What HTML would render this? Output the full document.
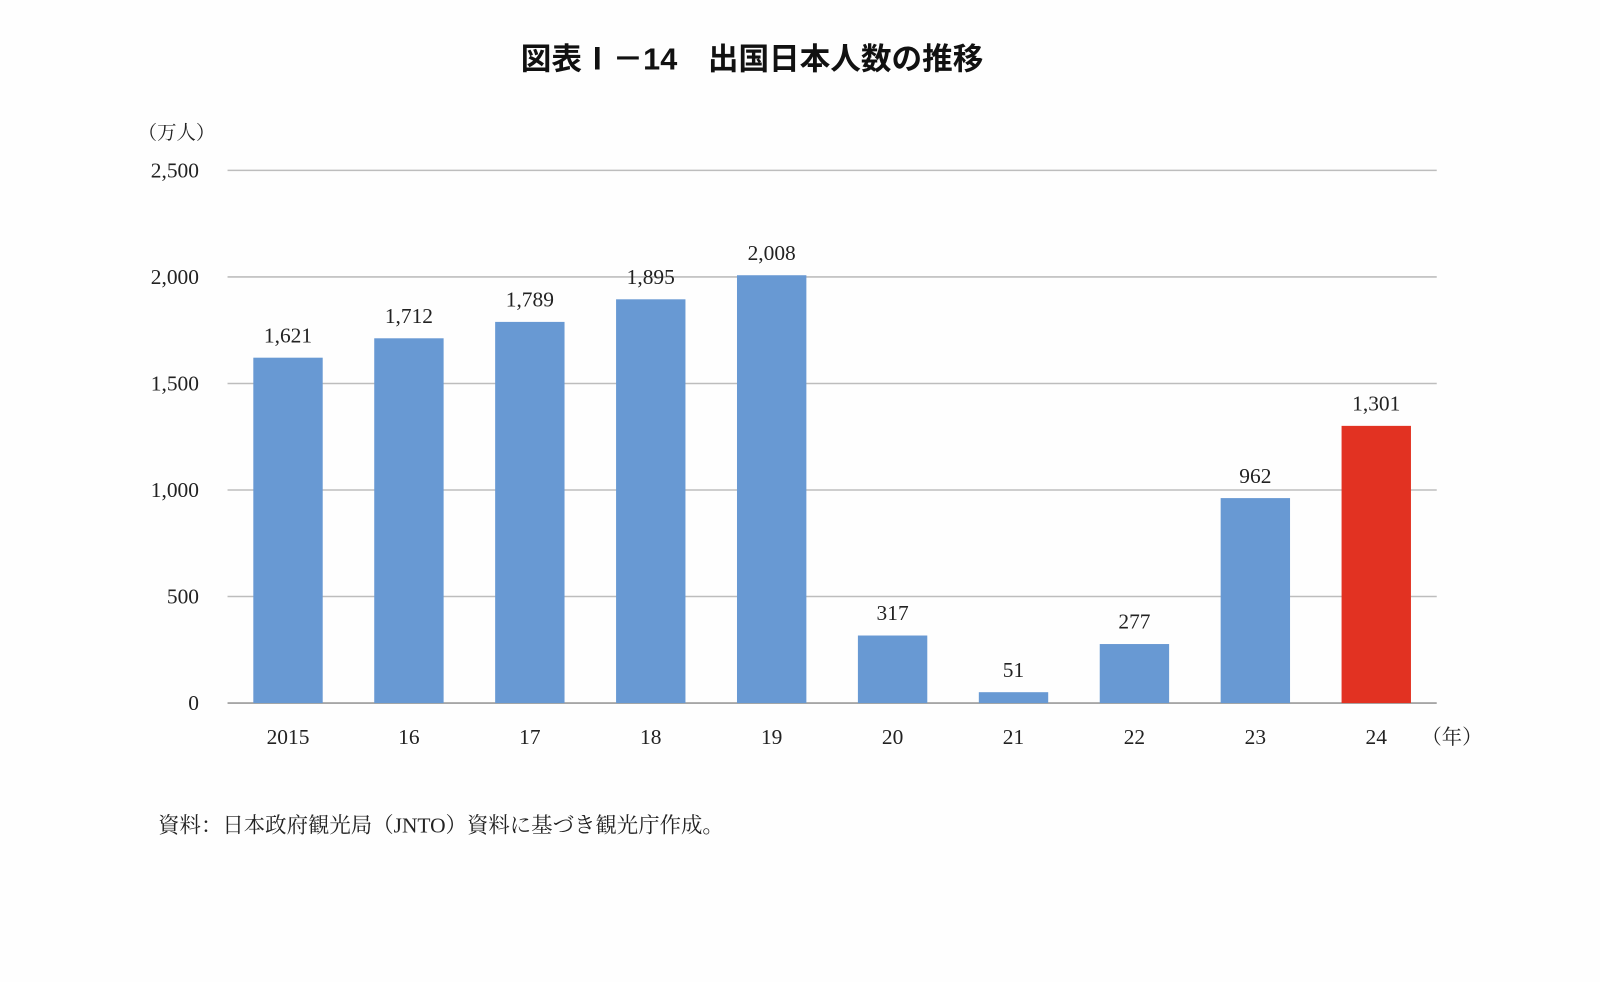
<!DOCTYPE html>
<html><head><meta charset="utf-8">
<style>
html,body{margin:0;padding:0;background:#fefefe;}
body{width:1600px;height:977px;overflow:hidden;position:relative;}
svg text{font-family:"Liberation Serif","Noto Serif CJK SC",serif;fill:#222;}
</style></head>
<body>
<svg width="1600" height="977">
<g transform="scale(1.0204)">
<text x="737" y="68" text-anchor="middle" style="font-family:'Liberation Sans','Noto Sans CJK JP',sans-serif;font-weight:bold;font-size:30px;fill:#111">図表Ⅰ－14　出国日本人数の推移</text>
<text x="135" y="136" font-size="19">（万人）</text>
<g id="grid"></g><g id="bars"></g><g id="labels"></g>
<text x="1393" y="729" font-size="20">（年）</text>
<text x="155" y="816" font-size="21">資料：日本政府観光局（JNTO）資料に基づき観光庁作成。</text>
</g>
</svg>
<script>
const categories=["2015","16","17","18","19","20","21","22","23","24"];
const values=[1621,1712,1789,1895,2008,317,51,277,962,1301];
const valueLabels=["1,621","1,712","1,789","1,895","2,008","317","51","277","962","1,301"];
const yTicks=[0,500,1000,1500,2000,2500];
const yTickLabels=["0","500","1,000","1,500","2,000","2,500"];
const highlight=[false,false,false,false,false,false,false,false,false,true];
const NS="http://www.w3.org/2000/svg";
const x0=223,x1=1408,yBase=689,yTop=167,yMax=2500;
const y=v=>yBase-(v/yMax)*(yBase-yTop);
const band=(x1-x0)/categories.length;
const xc=i=>x0+band*(i+0.5);
function mk(tag,attrs,parent){const e=document.createElementNS(NS,tag);for(const k in attrs)e.setAttribute(k,attrs[k]);parent.appendChild(e);return e;}
const g=document.getElementById('grid'),b=document.getElementById('bars'),l=document.getElementById('labels');
yTicks.forEach((t,i)=>{
 const ln=mk('line',{x1:x0,x2:x1,y1:y(t),y2:y(t),stroke:i==0?'#999':'#bdbdbd','stroke-width':1.5},g);
 
 
 const tx=mk('text',{x:195,y:y(t)+7,'text-anchor':'end','font-size':21},g);tx.textContent=yTickLabels[i];
 
 
});
categories.forEach((c,i)=>{
 const r=mk('rect',{x:xc(i)-34,y:y(values[i]),width:68,height:yBase-y(values[i]),fill:highlight[i]?'#e23222':'#6899d3'},b);
 
 
 const v=mk('text',{x:xc(i),y:y(values[i])-15,'text-anchor':'middle','font-size':21},l);v.textContent=valueLabels[i];
 
 
 const t=mk('text',{x:xc(i),y:729,'text-anchor':'middle','font-size':21},l);t.textContent=c;
 
 
});
</script>
</body></html>
